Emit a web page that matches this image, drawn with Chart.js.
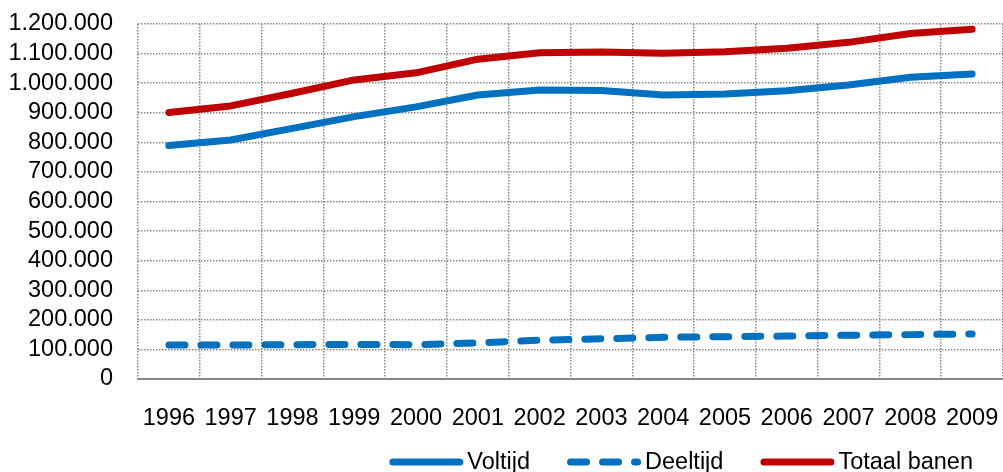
<!DOCTYPE html>
<html>
<head>
<meta charset="utf-8">
<script src="https://cdn.jsdelivr.net/npm/chart.js@4/dist/chart.umd.min.js"></script>
<style>
  html, body { margin: 0; padding: 0; background: #fff; }
  #wrap { width: 1003px; height: 472px; }
</style>
</head>
<body>
<div id="wrap"><canvas id="chart" width="1003" height="472"></canvas></div>
<script>
const years = ['1996', '1997', '1998', '1999', '2000', '2001', '2002', '2003', '2004', '2005', '2006', '2007', '2008', '2009'];
const voltijd = [789000, 808000, 847000, 887000, 920000, 960000, 977000, 975000, 960000, 963000, 974000, 994000, 1020000, 1031000];
const deeltijd = [115000, 115000, 116000, 117000, 116000, 122000, 131000, 136000, 141000, 143000, 145000, 148000, 150000, 152000];
const totaal = [901000, 923000, 966000, 1011000, 1035000, 1081000, 1103000, 1105000, 1101000, 1106000, 1118000, 1138000, 1168000, 1182000];
const seriesNames = ['Voltijd', 'Deeltijd', 'Totaal banen'];

const FONT = '"Liberation Sans", Arial, sans-serif';
const FONT_SIZE = 23.5;
const BLUE = '#0070C0';
const RED = '#C00000';
const GRID = '#888888';

function dots(n) {
    return String(n).replace(/\B(?=(\d{3})+(?!\d))/g, '.');
}

// legend drawn by hand so the sample lines and spacing look like the original
const lineLegend = {
    id: 'lineLegend',
    afterDraw(chart) {
        const ctx = chart.ctx;
        const y = 462;
        const sample = 74, textGap = 4, itemGap = 37;
        ctx.save();
        ctx.font = FONT_SIZE + 'px ' + FONT;
        ctx.textBaseline = 'middle';
        const items = chart.data.datasets.map(ds => ({
            ds: ds,
            w: sample + textGap + ctx.measureText(ds.label).width
        }));
        const total = items.reduce((s, it) => s + it.w, 0) + itemGap * (items.length - 1);
        let x = chart.width - 30 - total;
        items.forEach(it => {
            const ds = it.ds;
            const r = ds.borderWidth / 2;
            ctx.beginPath();
            ctx.strokeStyle = ds.borderColor;
            ctx.lineWidth = ds.borderWidth;
            ctx.lineCap = 'round';
            ctx.setLineDash(ds.borderDash || []);
            ctx.moveTo(x + r, y);
            ctx.lineTo(x + sample - r, y);
            ctx.stroke();
            ctx.setLineDash([]);
            ctx.fillStyle = '#000';
            ctx.fillText(ds.label, x + sample + textGap, y + 1);
            x += it.w + itemGap;
        });
        ctx.restore();
    }
};

const lineStyle = {
    borderWidth: 7,
    pointRadius: 0,
    pointHoverRadius: 0,
    tension: 0,
    borderJoinStyle: 'round',
    borderCapStyle: 'round',
    fill: false
};

function noPad(scale) {
    scale.paddingTop = 0;
    scale.paddingBottom = 0;
    scale.paddingLeft = 0;
    scale.paddingRight = 0;
}

new Chart(document.getElementById('chart').getContext('2d'), {
    type: 'line',
    data: {
        labels: years,
        datasets: [
            Object.assign({ label: seriesNames[0], data: voltijd, borderColor: BLUE, backgroundColor: BLUE }, lineStyle),
            Object.assign({ label: seriesNames[1], data: deeltijd, borderColor: BLUE, backgroundColor: BLUE, borderDash: [16, 16] }, lineStyle),
            Object.assign({ label: seriesNames[2], data: totaal, borderColor: RED, backgroundColor: RED }, lineStyle)
        ]
    },
    options: {
        responsive: false,
        animation: false,
        layout: {
            padding: { top: 24, left: 8, right: 0, bottom: 35 }
        },
        plugins: {
            legend: { display: false },
            tooltip: { enabled: false }
        },
        scales: {
            x: {
                offset: true,
                afterFit: (scale) => { scale.height = 58; noPad(scale); },
                grid: {
                    offset: true,
                    color: GRID,
                    lineWidth: 1.5,
                    drawTicks: false
                },
                border: { display: true, color: '#868686', width: 2, dash: [1.5, 1.5] },
                ticks: {
                    color: '#000',
                    padding: 25,
                    maxRotation: 0,
                    autoSkip: false,
                    font: { family: FONT, size: FONT_SIZE }
                }
            },
            y: {
                min: 0,
                max: 1200000,
                afterFit: (scale) => { scale.width = 130; noPad(scale); },
                grid: {
                    color: GRID,
                    lineWidth: 1.5,
                    drawTicks: false
                },
                border: { display: false, dash: [1.5, 1.5] },
                ticks: {
                    stepSize: 100000,
                    autoSkip: false,
                    color: '#000',
                    padding: 25,
                    font: { family: FONT, size: FONT_SIZE },
                    callback: (v) => dots(v)
                }
            }
        }
    },
    plugins: [lineLegend]
});
</script>
</body>
</html>
